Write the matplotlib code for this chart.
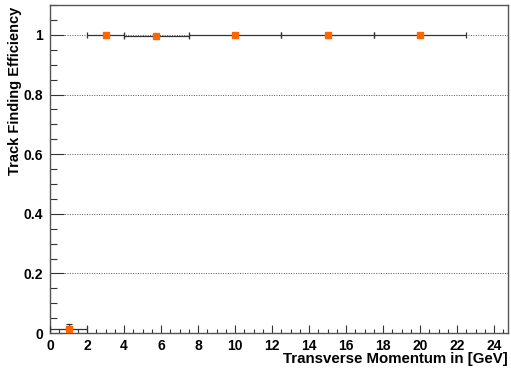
import matplotlib
matplotlib.use("Agg")
import matplotlib.pyplot as plt
from matplotlib.ticker import MultipleLocator
import numpy as np

# binned efficiency vs pT
pt_lo = np.array([0.0, 2.0, 4.0, 7.5, 12.5, 17.5])
pt_hi = np.array([2.0, 4.0, 7.5, 12.5, 17.5, 22.5])
eff = np.array([0.014, 1.0, 0.996, 1.0, 1.0, 1.0])
eff_err_lo = np.array([0.012, 0.0, 0.002, 0.0, 0.0, 0.0])
eff_err_hi = np.array([0.016, 0.0, 0.002, 0.0, 0.0, 0.0])

x_label = "Transverse Momentum in [GeV]"
y_label = "Track Finding Efficiency"

plt.rcParams["font.family"] = ["Liberation Sans", "DejaVu Sans"]
plt.rcParams["font.weight"] = "bold"

fig = plt.figure(figsize=(5.11, 3.68), dpi=100)
ax = fig.add_axes([0.098, 0.095, 0.896, 0.891])

pt_mid = 0.5 * (pt_lo + pt_hi)
ax.errorbar(pt_mid, eff, xerr=[pt_mid - pt_lo, pt_hi - pt_mid],
            yerr=[eff_err_lo, eff_err_hi], fmt="none", ecolor="#333333",
            elinewidth=0.9, capsize=2.5, capthick=0.9, zorder=3)
ax.plot(pt_mid, eff, "s", color="#ff6600", markersize=4.5, zorder=4)

ax.set_xlim(0, 24.75)
ax.set_ylim(0, 1.1)

ax.xaxis.set_major_locator(MultipleLocator(2))
ax.xaxis.set_minor_locator(MultipleLocator(0.5))
ax.yaxis.set_major_locator(MultipleLocator(0.2))
ax.yaxis.set_minor_locator(MultipleLocator(0.05))

ax.tick_params(axis="both", which="both", direction="in", top=False, right=False,
               color="#333333", width=0.8, labelsize=10)
ax.tick_params(axis="y", which="major", length=10, pad=5)
ax.tick_params(axis="y", which="minor", length=5)
ax.tick_params(axis="x", which="major", length=6, pad=4)
ax.tick_params(axis="x", which="minor", length=3)
ax.set_yticks([0, 0.2, 0.4, 0.6, 0.8, 1.0])
ax.set_yticklabels(["0", "0.2", "0.4", "0.6", "0.8", "1"])

for y in [0.2, 0.4, 0.6, 0.8, 1.0]:
    ax.axhline(y, color="#555555", linestyle=(0, (1, 1.5)), linewidth=0.7, zorder=1)

for s in ax.spines.values():
    s.set_color("#555555")
    s.set_linewidth(1.0)

ax.set_xlabel(x_label, fontsize=10.8, fontweight="bold", loc="right")
ax.xaxis.set_label_coords(1.0, -0.058)
ax.set_ylabel(y_label, fontsize=10.5, fontweight="bold", loc="top")
ax.yaxis.set_label_coords(-0.062, 0.995)

fig.savefig("out.png", dpi=100)
